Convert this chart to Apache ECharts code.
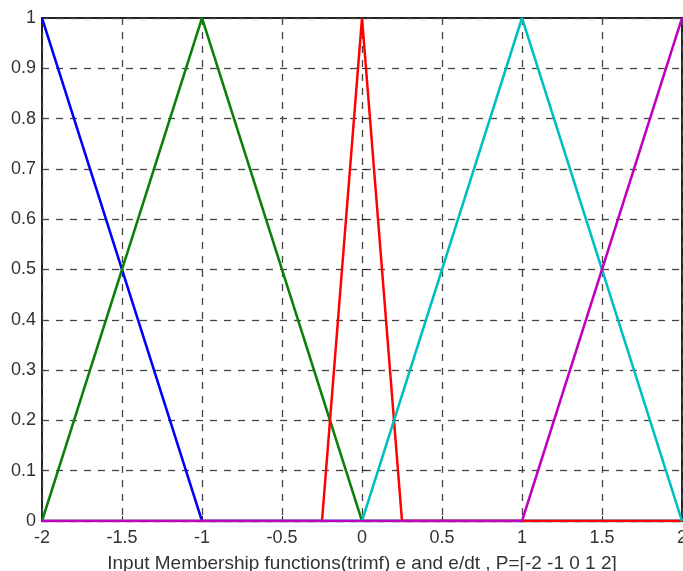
<!DOCTYPE html>
<html><head><meta charset="utf-8">
<script src="https://cdn.jsdelivr.net/npm/echarts@6/dist/echarts.min.js"></script>
<style>html,body{margin:0;padding:0;background:#fff}#c{width:683px;height:571px}</style>
</head><body><div id="c"></div>
<script>
// Membership functions (trimf), P = [-2 -1 0 1 2]
const xTicks = [-2, -1.5, -1, -0.5, 0, 0.5, 1, 1.5, 2];
const yTicks = [0, 0.1, 0.2, 0.3, 0.4, 0.5, 0.6, 0.7, 0.8, 0.9, 1];
const mfBlue    = [[-2, 1], [-1, 0], [2, 0]];
const mfGreen   = [[-2, 0], [-1, 1], [0, 0], [2, 0]];
const mfRed     = [[-2, 0], [-0.25, 0], [0, 1], [0.25, 0], [2, 0]];
const mfCyan    = [[-2, 0], [0, 0], [1, 1], [2, 0]];
const mfMagenta = [[-2, 0], [1, 0], [2, 1]];
const xLabel = 'Input Membership functions(trimf) e and e/dt , P=[-2 -1 0 1 2]';

const chart = echarts.init(document.getElementById('c'));
const font = 'Liberation Sans, Arial, sans-serif';
function s(data, color) {
  return { type: 'line', data: data, symbol: 'none', lineStyle: { color: color, width: 2.5 }, itemStyle: { color: color }, animation: false };
}
chart.setOption({
  backgroundColor: '#fff',
  grid: { left: 42, right: 1, top: 18, bottom: 50, outerBoundsMode: 'none', containLabel: false, show: true, borderColor: '#222', borderWidth: 2, backgroundColor: 'transparent' },
  xAxis: {
    type: 'value', min: -2, max: 2, interval: 0.5,
    name: xLabel, nameLocation: 'middle', nameGap: 33,
    nameTextStyle: { fontFamily: font, fontSize: 19, color: '#333' },
    axisLine: { show: false },
    axisTick: { show: true, inside: true, length: 5, lineStyle: { color: '#222' } },
    axisLabel: { fontFamily: font, fontSize: 18, color: '#333', margin: 8, formatter: v => String(v) },
    splitLine: { show: true, lineStyle: { color: '#444', type: [7, 7], width: 1.3 } }
  },
  yAxis: {
    type: 'value', min: 0, max: 1, interval: 0.1,
    axisLine: { show: false },
    axisTick: { show: true, inside: true, length: 5, lineStyle: { color: '#222' } },
    axisLabel: { fontFamily: font, fontSize: 18, color: '#333', margin: 6, formatter: v => String(+v.toFixed(1)) },
    splitLine: { show: true, lineStyle: { color: '#444', type: [7, 7], width: 1.3 } }
  },
  series: [
    s(mfBlue, '#0000ff'),
    s(mfGreen, '#0a800a'),
    s(mfRed, '#ff0000'),
    s(mfCyan, '#00bfbf'),
    s(mfMagenta, '#bf00bf')
  ]
});
</script></body></html>
